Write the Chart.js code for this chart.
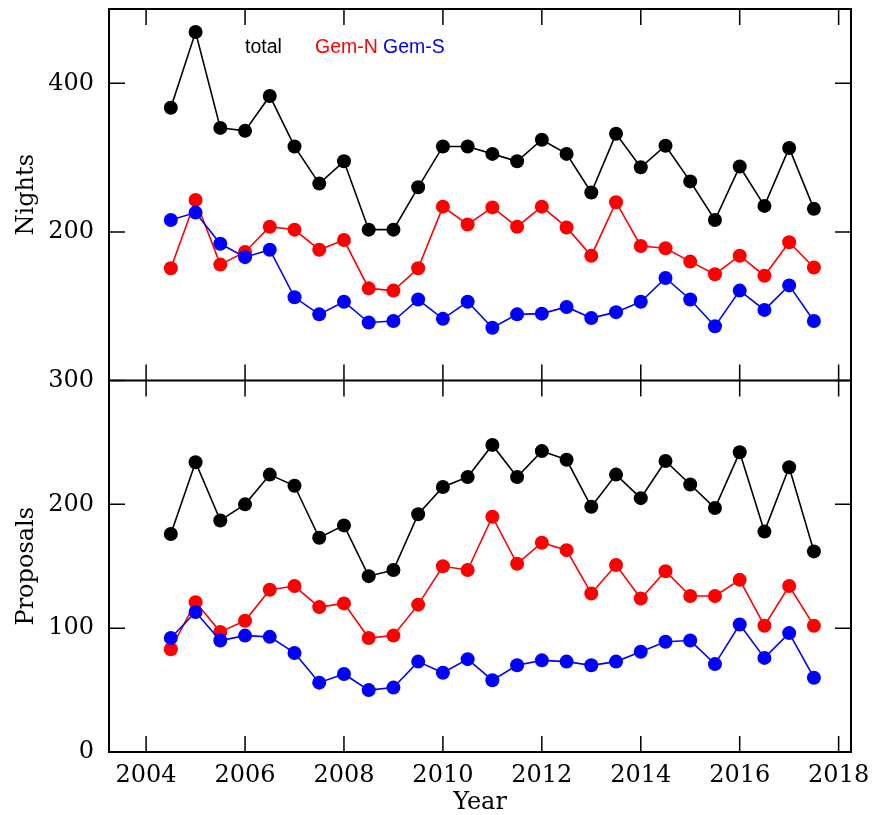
<!DOCTYPE html>
<html lang="en">
<head>
<meta charset="UTF-8">
<title>Nights and Proposals</title>
<script src="https://cdn.jsdelivr.net/npm/chart.js"></script>
<style>
  html, body { margin: 0; padding: 0; background: #fff; }
</style>
</head>
<body>
<canvas id="myChart" width="872" height="815"></canvas>
<script>
// semesters (x values)
const years = [2004.5, 2005, 2005.5, 2006, 2006.5, 2007, 2007.5, 2008, 2008.5, 2009,
  2009.5, 2010, 2010.5, 2011, 2011.5, 2012, 2012.5, 2013, 2013.5, 2014,
  2014.5, 2015, 2015.5, 2016, 2016.5, 2017, 2017.5];

// top panel: nights
const nightsTotal = [367, 469, 340, 336, 383, 315, 265, 295, 203, 203, 260, 315, 315, 305, 295, 324, 305, 253, 332, 287, 316, 268, 216, 288, 235, 313, 231];
const nightsN = [151, 243, 156, 173, 207, 203, 176, 189, 124, 121, 151, 234, 210, 233, 207, 234, 206, 168, 240, 181, 178, 160, 143, 168, 141, 186, 152];
const nightsS = [216, 226, 184, 166, 176, 112, 89, 106, 78, 80, 109, 83, 106, 71, 89, 90, 99, 84, 92, 106, 138, 109, 73, 121, 95, 128, 80];

// bottom panel: proposals
const propTotal = [176, 234, 187, 200, 224, 215, 173, 183, 142, 147, 192, 214, 222, 248, 222, 243, 236, 198, 224, 205, 235, 216, 197, 242, 178, 230, 162];
const propN = [83, 121, 97, 106, 131, 134, 117, 120, 92, 94, 119, 150, 147, 190, 152, 169, 163, 128, 151, 124, 146, 126, 126, 139, 102, 134, 102];
const propS = [92, 113, 90, 94, 93, 80, 56, 63, 50, 52, 73, 64, 75, 58, 70, 74, 73, 70, 73, 81, 89, 90, 71, 103, 76, 96, 60];

// ticks
const yearTicks = [2004, 2006, 2008, 2010, 2012, 2014, 2016, 2018];
const nightTicks = [0, 200, 400];
const propTicks = [0, 100, 200, 300];

const labels = ['total', 'Gem-N', 'Gem-S'];
const colors = ['#000000', '#ff0000', '#0000ff'];

const serif = 'DejaVu Serif';

function series(label, ys, color, axis, order) {
  return {
    label: label,
    data: years.map((x, i) => ({x: x, y: ys[i]})),
    borderColor: color,
    backgroundColor: color,
    borderWidth: 1.6,
    pointRadius: 7,
    pointHoverRadius: 7,
    pointBorderWidth: 0,
    yAxisID: axis,
    order: order,
    tension: 0
  };
}

// frame, inward ticks and the coloured text legend
const framePlugin = {
  id: 'frame',
  afterDraw(chart) {
    const {ctx, chartArea: a, scales} = chart;
    const yt = scales.yTop, yb = scales.yBot, x = scales.x;
    const mid = yt.bottom;
    const len = 16;
    ctx.save();
    ctx.strokeStyle = '#000';
    ctx.lineWidth = 1.5;
    ctx.beginPath();
    yearTicks.forEach(v => {
      const px = x.getPixelForValue(v);
      ctx.moveTo(px, a.top); ctx.lineTo(px, a.top + len);
      ctx.moveTo(px, mid - len); ctx.lineTo(px, mid + len);
      ctx.moveTo(px, a.bottom); ctx.lineTo(px, a.bottom - len);
    });
    nightTicks.forEach(v => {
      const py = yt.getPixelForValue(v);
      ctx.moveTo(a.left, py); ctx.lineTo(a.left + len, py);
      ctx.moveTo(a.right, py); ctx.lineTo(a.right - len, py);
    });
    propTicks.forEach(v => {
      const py = yb.getPixelForValue(v);
      ctx.moveTo(a.left, py); ctx.lineTo(a.left + len, py);
      ctx.moveTo(a.right, py); ctx.lineTo(a.right - len, py);
    });
    ctx.stroke();
    ctx.lineWidth = 2;
    ctx.strokeRect(a.left, a.top, a.right - a.left, a.bottom - a.top);
    ctx.beginPath();
    ctx.moveTo(a.left, mid); ctx.lineTo(a.right, mid);
    ctx.stroke();

    ctx.font = '19.5px "Liberation Sans"';
    ctx.textBaseline = 'alphabetic';
    const lx = [245, 315, 383];
    labels.forEach((t, i) => {
      ctx.fillStyle = colors[i];
      ctx.fillText(t, lx[i], 53);
    });
    ctx.restore();
  }
};

// keep the frame where the layout padding puts it
function noPad(s) {
  s.paddingTop = 0; s.paddingBottom = 0; s.paddingLeft = 0; s.paddingRight = 0;
}

const tickFont = {family: serif, size: 24};
const titleFont = {family: serif, size: 24, lineHeight: 1};

const ctx = document.getElementById('myChart').getContext('2d');
const myChart = new Chart(ctx, {
  type: 'line',
  data: {
    datasets: [
      series(labels[0], nightsTotal, colors[0], 'yTop', 3),
      series(labels[1], nightsN, colors[1], 'yTop', 2),
      series(labels[2], nightsS, colors[2], 'yTop', 1),
      series(labels[0], propTotal, colors[0], 'yBot', 3),
      series(labels[1], propN, colors[1], 'yBot', 2),
      series(labels[2], propS, colors[2], 'yBot', 1)
    ]
  },
  options: {
    responsive: false,
    animation: false,
    layout: {padding: {top: 9, right: 21, left: 0, bottom: 0}},
    plugins: {legend: {display: false}, tooltip: {enabled: false}},
    scales: {
      x: {
        type: 'linear',
        position: 'bottom',
        min: 2003.25,
        max: 2018.25,
        afterBuildTicks: s => { s.ticks = yearTicks.map(v => ({value: v})); },
        afterFit: s => { s.height = 63; noPad(s); },
        grid: {display: false, drawTicks: false},
        border: {display: false},
        ticks: {font: tickFont, color: '#000', padding: 9, maxRotation: 0, autoSkip: false,
          callback: v => String(v)},
        title: {display: true, text: 'Year', font: titleFont, color: '#000', padding: {top: 0, bottom: 0}}
      },
      yTop: {
        type: 'linear',
        position: 'left',
        stack: 'panels',
        stackWeight: 1,
        weight: 2,
        min: 0,
        max: 500,
        afterBuildTicks: s => { s.ticks = nightTicks.map(v => ({value: v})); },
        afterFit: s => { s.width = 109; noPad(s); },
        grid: {display: false, drawTicks: false},
        border: {display: false},
        ticks: {font: tickFont, color: '#000', padding: 15,
          callback: v => (v === 0 ? '' : String(v))},
        title: {display: true, text: 'Nights', font: titleFont, color: '#000', padding: {top: 15, bottom: 0}}
      },
      yBot: {
        type: 'linear',
        position: 'left',
        stack: 'panels',
        stackWeight: 1,
        weight: 1,
        min: 0,
        max: 300,
        afterBuildTicks: s => { s.ticks = propTicks.map(v => ({value: v})); },
        afterFit: s => { s.width = 109; noPad(s); },
        grid: {display: false, drawTicks: false},
        border: {display: false},
        ticks: {font: tickFont, color: '#000', padding: 15,
          callback: v => String(v)},
        title: {display: true, text: 'Proposals', font: titleFont, color: '#000', padding: {top: 15, bottom: 0}}
      }
    }
  },
  plugins: [framePlugin]
});
</script>
</body>
</html>
